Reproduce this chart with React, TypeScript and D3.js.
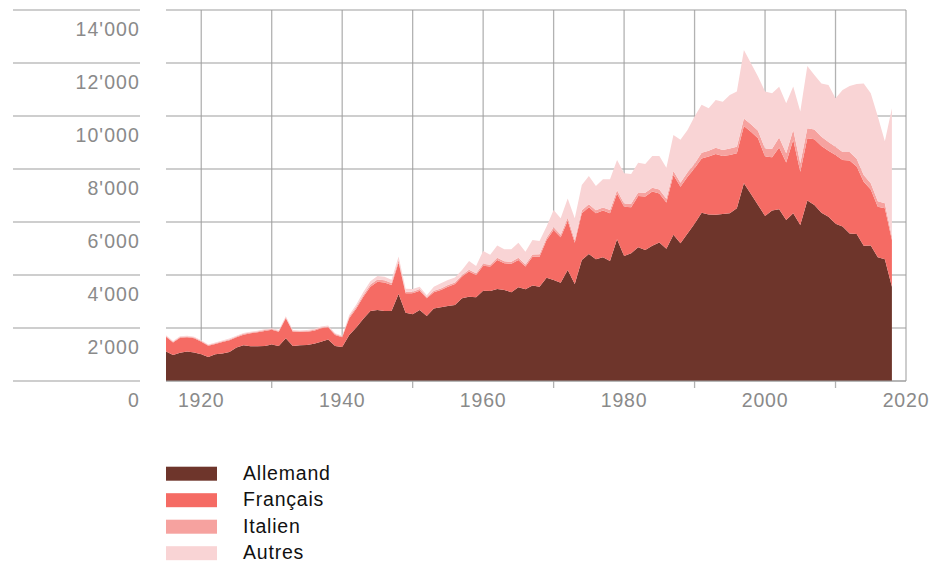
import React from "react";
import * as d3 from "d3";

const years: number[] = d3.range(1915, 2019);

const allemand: number[] = [
  1110, 980, 1070, 1110, 1080, 1010, 910, 1010, 1040, 1090,
  1260, 1350, 1310, 1310, 1320, 1380, 1320, 1610, 1320, 1350,
  1360, 1410, 1480, 1570, 1320, 1280, 1740, 2020, 2350, 2640,
  2680, 2640, 2640, 3280, 2580, 2520, 2680, 2450, 2740, 2780,
  2830, 2870, 3120, 3180, 3160, 3410, 3400, 3470, 3430, 3350,
  3540, 3460, 3600, 3560, 3900, 3810, 3710, 4190, 3660, 4570,
  4790, 4590, 4670, 4530, 5350, 4720, 4820, 5050, 4940, 5100,
  5230, 4990, 5520, 5200, 5570, 5930, 6350, 6280, 6270, 6300,
  6330, 6520, 7460, 7060, 6640, 6230, 6430, 6480, 6080, 6330,
  5890, 6810, 6640, 6350, 6200, 5930, 5830, 5570, 5550, 5100,
  5110, 4670, 4590, 3560,
];

const francais: number[] = [
  560, 470, 560, 540, 530, 470, 420, 390, 430, 450,
  390, 400, 490, 530, 570, 550, 540, 760, 540, 500,
  500, 490, 510, 460, 420, 370, 630, 720, 830, 920,
  1070, 1080, 980, 1190, 730, 790, 730, 670, 610, 650,
  730, 790, 820, 950, 840, 940, 920, 1100, 1010, 1070,
  1030, 860, 1090, 1130, 1420, 1890, 1710, 1860, 1560, 1760,
  1770, 1740, 1760, 1800, 1730, 1860, 1740, 1930, 2020, 2050,
  1850, 1750, 2250, 2130, 2140, 2100, 2050, 2190, 2300, 2190,
  2200, 2070, 2160, 2350, 2520, 2240, 2010, 2330, 2170, 2770,
  2010, 2350, 2480, 2520, 2490, 2600, 2510, 2750, 2540, 2420,
  2120, 1910, 1930, 1760,
];

const italien: number[] = [
  30, 30, 30, 30, 30, 30, 25, 25, 30, 30,
  30, 30, 30, 30, 30, 30, 30, 35, 30, 30,
  30, 30, 30, 30, 30, 30, 50, 60, 70, 80,
  80, 80, 80, 90, 60, 60, 60, 50, 60, 60,
  60, 60, 60, 70, 70, 70, 70, 80, 80, 80,
  80, 80, 80, 90, 90, 100, 100, 110, 100, 110,
  110, 110, 120, 120, 120, 120, 130, 130, 140, 140,
  150, 140, 150, 150, 170, 170, 210, 220, 230, 230,
  240, 250, 290, 280, 280, 300, 320, 380, 340, 380,
  320, 380, 370, 350, 330, 310, 300, 320, 300, 250,
  230, 200, 190, 130,
];

const autres: number[] = [
  30, 30, 30, 30, 30, 30, 25, 25, 30, 30,
  30, 30, 30, 30, 35, 35, 30, 40, 30, 30,
  30, 30, 35, 35, 30, 30, 70, 90, 110, 120,
  130, 130, 120, 140, 110, 100, 90, 70, 150, 200,
  190, 190, 190, 330, 270, 490, 370, 460, 450, 470,
  570, 480, 550, 500, 420, 650, 620, 730, 820, 960,
  1070, 920, 1060, 1160, 1140, 1140, 1120, 1130, 1090, 1200,
  1260, 1170, 1360, 1620, 1590, 1780, 1810, 1600, 1800, 1820,
  2020, 2080, 2580, 2300, 2050, 2150, 2100, 1910, 1890, 1630,
  1950, 2350, 2060, 2010, 2150, 1830, 2340, 2490, 2820, 3460,
  3400, 3200, 2340, 4840,
];

const seriesKeys: string[] = ["Allemand", "Français", "Italien", "Autres"];
const seriesColors: string[] = ["#6e352b", "#f56b64", "#f6a29f", "#f9d4d5"];

const yTicks: number[] = [0, 2000, 4000, 6000, 8000, 10000, 12000, 14000];
const yTickLabels: string[] = ["0", "2'000", "4'000", "6'000", "8'000", "10'000", "12'000", "14'000"];
const xGridYears: number[] = [1920, 1930, 1940, 1950, 1960, 1970, 1980, 1990, 2000, 2010, 2020];
const xLabelYears: number[] = [1920, 1940, 1960, 1980, 2000, 2020];

const W = 935;
const H = 563;
const plotLeft = 166;
const plotRight = 906;
const plotTop = 10;
const plotBottom = 381;

export default function App() {
  const rows = years.map((yr, i) => ({
    year: yr,
    Allemand: allemand[i],
    Français: francais[i],
    Italien: italien[i],
    Autres: autres[i],
  }));

  const x = d3.scaleLinear().domain([1915, 2020]).range([plotLeft, plotRight]);
  const y = d3.scaleLinear().domain([0, 14000]).range([plotBottom, plotTop]);

  const stacked = d3.stack<any>().keys(seriesKeys)(rows);
  const area = d3
    .area<any>()
    .x((d) => x(d.data.year))
    .y0((d) => y(d[0]))
    .y1((d) => y(d[1]))
    .curve(d3.curveLinear);

  const font = "'Liberation Sans', Arial, Helvetica, sans-serif";
  const gridColor = "#9d9d9d";

  return (
    <svg
      width={W}
      height={H}
      style={{ position: "absolute", left: 0, top: 0, display: "block" }}
      fontFamily={font}
    >
      <rect x={0} y={0} width={W} height={H} fill="#ffffff" />
      {xGridYears.map((yr) => {
        const labeled = xLabelYears.includes(yr);
        return (
          <line
            key={"v" + yr}
            x1={x(yr)}
            x2={x(yr)}
            y1={plotTop}
            y2={labeled ? plotBottom : plotBottom + 7}
            stroke="#b2b2b2"
            strokeWidth={1.3}
          />
        );
      })}
      {yTicks.map((v) => (
        <g key={"h" + v}>
          <line x1={plotLeft} x2={plotRight} y1={y(v)} y2={y(v)} stroke={gridColor} strokeWidth={1.2} />
          <line x1={13} x2={140} y1={y(v)} y2={y(v)} stroke={gridColor} strokeWidth={1.2} />
        </g>
      ))}
      {stacked.map((s, i) => (
        <path key={s.key} d={area(s) || ""} fill={seriesColors[i]} />
      ))}
      <line x1={plotLeft} x2={plotRight} y1={plotBottom} y2={plotBottom} stroke={gridColor} strokeWidth={1.2} />
      {yTicks.map((v, i) => (
        <text
          key={"yl" + v}
          x={140}
          y={y(v) + 26}
          textAnchor="end"
          fontSize={19.5}
          letterSpacing={1.1}
          fill="#8a8a8a"
        >
          {yTickLabels[i]}
        </text>
      ))}
      {xLabelYears.map((yr) => (
        <text
          key={"xl" + yr}
          x={x(yr)}
          y={407}
          textAnchor="middle"
          fontSize={19.5}
          letterSpacing={0.8}
          fill="#8a8a8a"
        >
          {String(yr)}
        </text>
      ))}
      {seriesKeys.map((k, i) => (
        <g key={"lg" + k} transform={`translate(166, ${466.7 + i * 26.5})`}>
          <rect x={0} y={0} width={51} height={14} fill={seriesColors[i]} />
          <text x={77} y={13} fontSize={19.5} letterSpacing={0.8} fill="#111111">
            {k}
          </text>
        </g>
      ))}
    </svg>
  );
}
